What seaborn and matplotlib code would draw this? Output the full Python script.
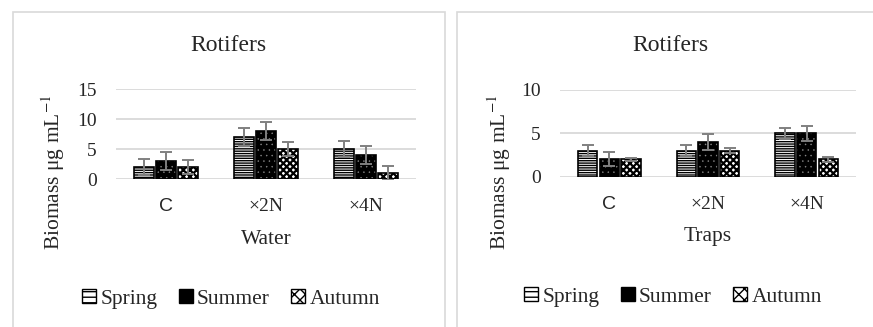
import matplotlib
matplotlib.use("Agg")
import matplotlib.pyplot as plt
from matplotlib.patches import Rectangle, Patch
import seaborn as sns
import pandas as pd

# Categories and seasons
categories = ["C", "×2N", "×4N"]
seasons = ["Spring", "Summer", "Autumn"]

# Water samples: biomass (µg mL-1) and error
water_spring = [2, 7, 5]
water_summer = [3, 8, 4]
water_autumn = [2, 5, 1]
water_spring_err = [1.4, 1.5, 1.4]
water_summer_err = [1.5, 1.5, 1.5]
water_autumn_err = [1.2, 1.1, 1.2]

# Trap samples: biomass (µg mL-1) and error
traps_spring = [3, 3, 5]
traps_summer = [2, 4, 5]
traps_autumn = [2, 3, 2]
traps_spring_err = [0.65, 0.65, 0.65]
traps_summer_err = [0.8, 0.9, 0.9]
traps_autumn_err = [0.2, 0.3, 0.3]

sns.set_theme(style="white")
plt.rcParams["font.family"] = ["Liberation Serif", "DejaVu Serif"]
plt.rcParams["mathtext.fontset"] = "stix"
plt.rcParams["hatch.linewidth"] = 1.0

# fill, hatch colour (via edge), hatch pattern and hatch width for each season
styles = {
    "Spring": dict(face="white", hatchc="black", hatch="-------", hlw=1.0),
    "Summer": dict(face="black", hatchc="#8a8a8a", hatch="...", hlw=0.3),
    "Autumn": dict(face="white", hatchc="black", hatch="xxxxx", hlw=1.6),
}

W, H = 873, 327
fig = plt.figure(figsize=(W / 100, H / 100), dpi=100)

# chart-area borders
for x0, x1 in [(13, 445), (457, 900)]:
    fig.add_artist(Rectangle((x0 / W, -0.1), (x1 - x0) / W, 1.1 - 12 / H,
                             transform=fig.transFigure, fill=False,
                             edgecolor="#d9d9d9", lw=1.2))


def set_hatch_width(patch, lw):
    if hasattr(patch, "set_hatch_linewidth"):
        patch.set_hatch_linewidth(lw)


def panel(rect, values, errors, ymax, xlabel, xlab_y, ylab_xy):
    ax = fig.add_axes(rect)
    df = pd.DataFrame({
        "group": categories * 3,
        "season": [s for s in seasons for _ in categories],
        "value": [v for vals in values for v in vals],
    })
    sns.barplot(data=df, x="group", y="value", hue="season", order=categories,
                hue_order=seasons, errorbar=None, width=0.66, gap=0.12,
                legend=False, ax=ax, zorder=2)
    for season, cont, errs in zip(seasons, ax.containers, errors):
        st = styles[season]
        xs, ys = [], []
        for bar in cont:
            bar.set_facecolor(st["face"])
            bar.set_edgecolor(st["hatchc"])
            bar.set_hatch(st["hatch"])
            set_hatch_width(bar, st["hlw"])
            bar.set_linewidth(0)
            ax.add_patch(Rectangle(bar.get_xy(), bar.get_width(), bar.get_height(),
                                   fill=False, edgecolor="black", lw=1.2, zorder=3))
            xs.append(bar.get_x() + bar.get_width() / 2)
            ys.append(bar.get_height())
        ax.errorbar(xs, ys, yerr=errs, fmt="none", ecolor="#808080",
                    elinewidth=1.4, capsize=4, capthick=1.4, zorder=4)
    ax.set_ylim(0, ymax)
    ax.set_yticks(range(0, ymax + 1, 5))
    ax.set_xlim(-0.5, 2.5)
    ax.yaxis.grid(True, color="#d9d9d9", lw=1.3, zorder=0)
    ax.set_axisbelow(True)
    for s in ax.spines.values():
        s.set_visible(False)
    ax.tick_params(axis="x", length=0, pad=14, labelsize=14)
    ax.tick_params(axis="y", length=0, pad=14, labelsize=14)
    ax.get_xticklabels()[0].set_fontfamily(["Liberation Sans", "DejaVu Sans"])
    ax.set_xlabel(xlabel, fontsize=15.5)
    ax.xaxis.set_label_coords(0.5, xlab_y)
    ax.set_ylabel("Biomass μg mL$^{-1}$", fontsize=15.5)
    ax.yaxis.set_label_coords(*ylab_xy)
    return ax


panel([116 / W, 1 - 179 / H, 300 / W, 90 / H],
      [water_spring, water_summer, water_autumn],
      [water_spring_err, water_summer_err, water_autumn_err],
      15, "Water", -0.57, (-0.163, 0.08))
panel([560 / W, 1 - 176.7 / H, 296 / W, 86.7 / H],
      [traps_spring, traps_summer, traps_autumn],
      [traps_spring_err, traps_summer_err, traps_autumn_err],
      10, "Traps", -0.58, (-0.159, 0.05))

for cx in (228, 670):
    fig.text(cx / W, 1 - 45.5 / H, "Rotifers", ha="center", va="center", fontsize=17)

handles = []
for s in seasons:
    st = styles[s]
    if s == "Summer":
        h = Patch(facecolor="black", edgecolor="black", label=s)
    else:
        h = Patch(facecolor=st["face"], edgecolor="black", hatch=st["hatch"][:3], label=s)
    handles.append(h)
for cx, cy in [(231, 299), (673, 297)]:
    fig.legend(handles=handles, loc="center", bbox_to_anchor=(cx / W, 1 - cy / H),
               ncol=3, frameon=False, fontsize=15.5, handlelength=0.65,
               handleheight=0.65, handletextpad=0.2, columnspacing=1.0,
               borderpad=0)

fig.savefig("out.png", dpi=100)
